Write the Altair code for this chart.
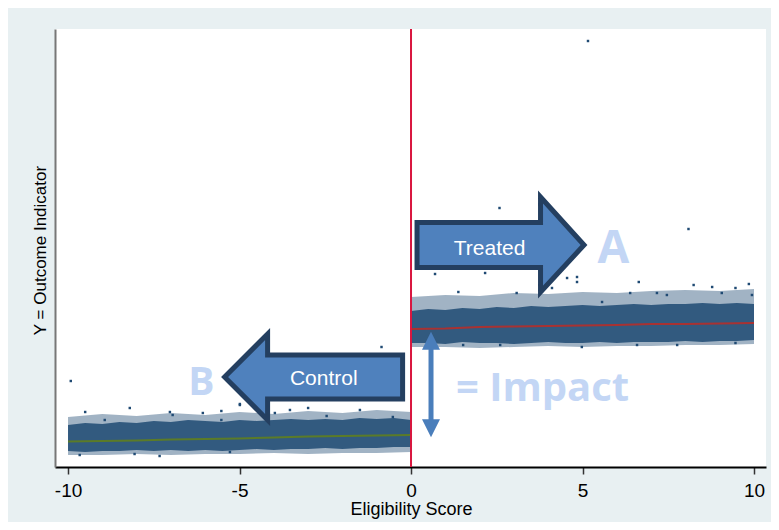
import altair as alt
import pandas as pd

# ---------------- data ----------------
# Control side: dense band of the scatter cloud (x = eligibility score, y = outcome)
ctrl_x = [-10, -9.5, -9, -8.5, -8, -7.5, -7, -6.5, -6, -5.5, -5, -4.5, -4, -3.5, -3, -2.5, -2, -1.5, -1, -0.5, 0]
ctrl_hi = [4.2, 4.4, 4.3, 4.5, 4.4, 4.6, 4.5, 4.7, 4.6, 4.5, 4.7, 4.6, 4.7, 4.8, 4.7, 4.8, 4.7, 4.9, 4.8, 4.9, 4.7]
ctrl_lo = [1.6, 1.5, 1.6, 1.6, 1.7, 1.6, 1.7, 1.6, 1.7, 1.6, 1.7, 1.8, 1.7, 1.8, 1.8, 1.9, 1.8, 1.9, 1.9, 2.0, 2.0]
# Control side: sparse fringe of the cloud
ctrl_fx = [-10, -9, -8, -7, -6, -5, -4, -3, -2, -1, 0]
ctrl_fhi = [5.0, 5.3, 5.1, 5.4, 5.2, 5.5, 5.3, 5.6, 5.4, 5.7, 5.5]
ctrl_flo = [1.2, 1.2, 1.3, 1.2, 1.3, 1.3, 1.4, 1.3, 1.4, 1.4, 1.5]

# Treated side: dense band
trt_x = [0, 0.5, 1, 1.5, 2, 2.5, 3, 3.5, 4, 4.5, 5, 5.5, 6, 6.5, 7, 7.5, 8, 8.5, 9, 9.5, 10]
trt_hi = [15.6, 15.8, 15.7, 15.9, 15.8, 16.0, 15.9, 16.1, 16.0, 16.1, 16.2, 16.1, 16.2, 16.3, 16.2, 16.3, 16.3, 16.4, 16.3, 16.4, 16.3]
trt_lo = [12.4, 12.4, 12.3, 12.5, 12.4, 12.4, 12.3, 12.4, 12.5, 12.4, 12.4, 12.5, 12.4, 12.5, 12.5, 12.5, 12.6, 12.5, 12.6, 12.6, 12.7]
# Treated side: sparse fringe
trt_fx = [0, 1, 2, 3, 4, 5, 6, 7, 8, 9, 10]
trt_fhi = [17.0, 17.2, 17.1, 17.4, 17.3, 17.5, 17.4, 17.6, 17.7, 17.6, 17.8]
trt_flo = [12.0, 12.0, 11.9, 12.0, 12.1, 12.0, 12.1, 12.1, 12.2, 12.2, 12.3]

# Fitted (local) regression lines
ctrl_fit_x = [-10, -9, -8, -7, -6, -5, -4, -3, -2, -1, 0]
ctrl_fit_y = [2.55, 2.6, 2.65, 2.75, 2.8, 2.85, 2.95, 3.05, 3.1, 3.15, 3.2]
trt_fit_x = [0, 1, 2, 3, 4, 5, 6, 7, 8, 9, 10]
trt_fit_y = [13.8, 13.85, 14.0, 14.05, 14.1, 14.15, 14.2, 14.3, 14.3, 14.35, 14.4]

# Isolated points visible outside the dense cloud
out_x = [-9.92, -9.5, -8.2, -8.93, -7.03, -6.95, -4.99, -6.07, -5.53, -7.33, -9.66, -8.06, -5.28,
         -0.86, -4.99, -5.53, -3.0, -1.49, -3.53, -2.46, -0.53, -3.97,
         5.16, 2.58, 0.70, 2.16, 4.55, 4.84, 4.84, 4.11, 1.38, 3.08,
         6.64, 8.09, 8.24, 8.78, 9.85, 9.46, 9.94,
         6.39, 7.46, 5.57, 7.17, 9.06,
         7.76, 1.52, 4.98, 9.46, 2.6, 6.59]
out_y = [8.6, 5.5, 5.9, 4.7, 5.5, 5.2, 6.2, 5.4, 4.7, 1.1, 1.2, 1.3, 1.5,
         12.0, 6.3, 5.6, 5.9, 5.7, 5.7, 5.1, 5.0, 5.4,
         42.6, 25.9, 19.3, 19.4, 18.9, 19.0, 18.5, 17.9, 17.5, 17.4,
         18.5, 23.8, 18.2, 18.0, 18.3, 17.9, 17.2,
         17.4, 17.2, 16.5, 17.4, 17.4,
         12.2, 12.2, 12.0, 12.4, 12.2, 12.2]

cutoff = [0]

# Annotations
arrow_names = ["Treated", "Control"]
arrow_x = [2.61, -2.84]
arrow_y = [22.25, 9.0]
label_x = [2.29, -2.545]
label_y = [21.2, 8.2]
letters = ["A", "B"]
letter_x = [5.90, -6.11]
letter_y = [20.4, 7.2]
letter_size = [46, 39]
impact_text = ["= Impact"]
impact_x = [1.31]
impact_y = [6.63]
impact_arrow_x = [0.583]
impact_arrow_top = [11.8]
impact_arrow_bottom = [4.7]
impact_head_up_y = [12.63]
impact_head_down_y = [3.87]

# ---------------- chart ----------------
NAVY = "#1f4a73"
XS = alt.Scale(domain=[-10.38, 10.35], nice=False, zero=False)
YS = alt.Scale(domain=[0, 43.8], nice=False, zero=False)

x_axis = alt.Axis(values=[-10, -5, 0, 5, 10], title="Eligibility Score", grid=False,
                  labelExpr="'' + datum.value",
                  domainColor="#000000", domainWidth=2, tickColor="#333333", tickWidth=1.5,
                  tickSize=7, labelFont="Liberation Sans", labelFontSize=19, labelColor="#000000",
                  labelPadding=7, titleFont="Liberation Sans", titleFontSize=18,
                  titleFontWeight="normal", titleColor="#000000", titleBaseline="alphabetic",
                  titleY=47, titleX=356)
y_axis = alt.Axis(labels=False, ticks=False, grid=False, domainColor="#777777", domainWidth=2,
                  title="Y = Outcome Indicator", titleX=-15, titleY=221, titleAngle=270,
                  titleBaseline="middle", titleAlign="center", titleFont="Liberation Sans",
                  titleFontSize=17, titleFontWeight="normal", titleColor="#000000")


def X(field):
    return alt.X(field, type="quantitative", scale=XS, axis=x_axis)


def Y(field):
    return alt.Y(field, type="quantitative", scale=YS, axis=y_axis)


ctrl_band = pd.DataFrame({"x": ctrl_x, "hi": ctrl_hi, "lo": ctrl_lo})
ctrl_fringe = pd.DataFrame({"x": ctrl_fx, "hi": ctrl_fhi, "lo": ctrl_flo})
trt_band = pd.DataFrame({"x": trt_x, "hi": trt_hi, "lo": trt_lo})
trt_fringe = pd.DataFrame({"x": trt_fx, "hi": trt_fhi, "lo": trt_flo})

layers = []
for df, op in [(ctrl_fringe, 0.42), (trt_fringe, 0.42), (ctrl_band, 0.85), (trt_band, 0.85)]:
    layers.append(alt.Chart(df).mark_area(color=NAVY, opacity=op)
                  .encode(x=X("x"), y=Y("hi"), y2="lo"))

layers.append(
    alt.Chart(pd.DataFrame({"x": out_x, "y": out_y}))
    .mark_square(color=NAVY, size=6, opacity=1)
    .encode(x=X("x"), y=Y("y"))
)
layers.append(
    alt.Chart(pd.DataFrame({"x": ctrl_fit_x, "y": ctrl_fit_y}))
    .mark_line(color="#5b7b28", strokeWidth=2)
    .encode(x=X("x"), y=Y("y"))
)
layers.append(
    alt.Chart(pd.DataFrame({"x": trt_fit_x, "y": trt_fit_y}))
    .mark_line(color="#a83232", strokeWidth=2)
    .encode(x=X("x"), y=Y("y"))
)
# cutoff line
layers.append(
    alt.Chart(pd.DataFrame({"x": cutoff, "y0": [0], "y1": [43.8]}))
    .mark_rule(color="#d9163f", strokeWidth=2)
    .encode(x=X("x"), y=Y("y0"), y2="y1")
)

arrows = pd.DataFrame({"name": arrow_names, "x": arrow_x, "y": arrow_y})
right_path = "M -1 -0.263 L 0.479 -0.263 L 0.479 -0.569 L 1 0.006 L 0.479 0.569 L 0.479 0.275 L -1 0.275 Z"
left_path = "M 1 -0.247 L -0.517 -0.247 L -0.517 -0.483 L -1 0 L -0.517 0.483 L -0.517 0.247 L 1 0.247 Z"
for name, path, size in [("Treated", right_path, 27889), ("Control", left_path, 31684)]:
    layers.append(
        alt.Chart(arrows).transform_filter(alt.datum.name == name)
        .mark_point(shape=path, size=size, filled=True, fill="#4f81bd", stroke="#243f60",
                    strokeWidth=5, strokeJoin="miter", opacity=1, fillOpacity=1, strokeOpacity=1)
        .encode(x=X("x"), y=Y("y"))
    )

layers.append(
    alt.Chart(pd.DataFrame({"t": arrow_names, "x": label_x, "y": label_y}))
    .mark_text(font="Liberation Sans", fontSize=21, color="#ffffff", align="center", baseline="alphabetic")
    .encode(x=X("x"), y=Y("y"), text="t:N")
)

# impact double arrow
imp = pd.DataFrame({"x": impact_arrow_x, "top": impact_arrow_top, "bot": impact_arrow_bottom,
                    "hu": impact_head_up_y, "hd": impact_head_down_y})
layers.append(alt.Chart(imp).mark_rule(color="#4a7ebb", strokeWidth=5)
              .encode(x=X("x"), y=Y("top"), y2="bot"))
layers.append(alt.Chart(imp).mark_point(shape="M -1 1 L 1 1 L 0 -1 Z", size=324, filled=True,
                                        fill="#4a7ebb", opacity=1, strokeWidth=0)
              .encode(x=X("x"), y=Y("hu")))
layers.append(alt.Chart(imp).mark_point(shape="M -1 -1 L 1 -1 L 0 1 Z", size=324, filled=True,
                                        fill="#4a7ebb", opacity=1, strokeWidth=0)
              .encode(x=X("x"), y=Y("hd")))

LIGHT = "#c3d6f5"
layers.append(
    alt.Chart(pd.DataFrame({"t": letters, "x": letter_x, "y": letter_y, "fs": letter_size}))
    .mark_text(font="Open Sans", fontWeight="bold", color=LIGHT, align="center", baseline="alphabetic")
    .encode(x=X("x"), y=Y("y"), text="t:N", size=alt.Size("fs:Q", scale=None))
)
layers.append(
    alt.Chart(pd.DataFrame({"t": impact_text, "x": impact_x, "y": impact_y}))
    .mark_text(font="Open Sans", fontWeight="bold", fontSize=40, color=LIGHT, align="left", baseline="alphabetic")
    .encode(x=X("x"), y=Y("y"), text="t:N")
)

chart = (
    alt.layer(*layers)
    .properties(width=711, height=438,
                padding={"left": 47, "top": 21, "right": 5, "bottom": 55},
                autosize=alt.AutoSizeParams(type="none"),
                background="#e8f0f2")
    .configure_view(fill="#ffffff", stroke=None)
)

chart.save("out.html", embed_options={"renderer": "svg", "actions": False})
